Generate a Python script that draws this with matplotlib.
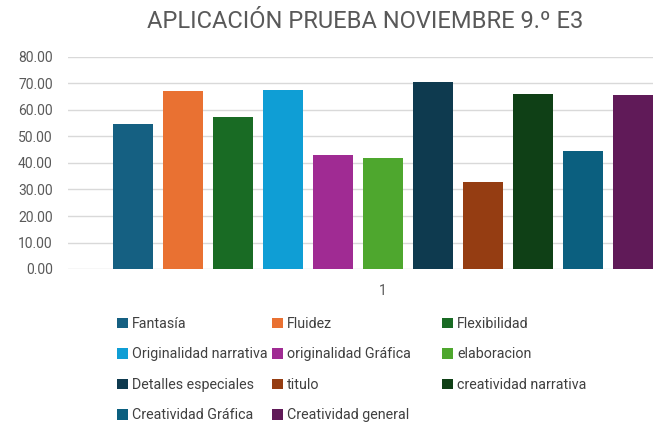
import numpy as np
import matplotlib.pyplot as plt

plt.rcParams['font.family'] = ['Roboto', 'DejaVu Sans']

series = ['Fantasía', 'Fluidez', 'Flexibilidad', 'Originalidad narrativa',
          'originalidad Gráfica', 'elaboracion', 'Detalles especiales', 'titulo',
          'creatividad narrativa', 'Creatividad Gráfica', 'Creatividad general']
values = [54.9, 67.2, 57.5, 67.6, 42.9, 41.9, 70.6, 32.7, 66.2, 44.4, 65.7]
colors = ['#156082', '#E97132', '#196B24', '#0F9ED5', '#A02B93', '#4EA72E',
          '#0E3A4F', '#953D12', '#0F4016', '#0B5F7F', '#601A58']
category = ['1']
yticks = [0, 10, 20, 30, 40, 50, 60, 70, 80]

fig = plt.figure(figsize=(6.53, 4.25), dpi=100)
ax = fig.add_axes([68 / 653, 1 - 269 / 425, 630 / 653, 212 / 425])

n = len(series)
pitch = 50 / 630
bars = []
for i, (name, v, c) in enumerate(zip(series, values, colors)):
    x = 1 + (i - (n - 1) / 2) * pitch
    b = ax.bar(x, v, width=pitch * 0.8, color=c, label=name, zorder=3)
    bars.append(b)

ax.set_xlim(0.5, 1.5)
ax.set_ylim(0, 80)
ax.set_yticks(yticks)
ax.set_yticklabels([f'{t:.2f}' for t in yticks])
ax.set_xticks([1])
ax.set_xticklabels(category)
ax.grid(axis='y', color='#D9D9D9', linewidth=1, zorder=0)
ax.set_axisbelow(True)
for s in ax.spines.values():
    s.set_visible(False)
ax.tick_params(axis='both', length=0, labelsize=10, colors='#595959')
ax.tick_params(axis='y', pad=11)
ax.tick_params(axis='x', pad=11)

fig.text(365 / 653, 1 - 22 / 425, 'APLICACIÓN PRUEBA NOVIEMBRE 9.º E3',
         ha='center', va='center', fontsize=17, color='#595959')

# legend in three columns, row-major like Excel
col_x = [117, 272, 442]
for col in range(3):
    idx = list(range(col, n, 3))
    leg = fig.legend([bars[i] for i in idx], [series[i] for i in idx],
                     loc='upper left', bbox_to_anchor=(col_x[col] / 653, 1 - 317 / 425),
                     frameon=False, fontsize=10.3, handlelength=0.75, handleheight=0.75,
                     handletextpad=0.3, labelspacing=1.15, borderaxespad=0, borderpad=0)
    for t in leg.get_texts():
        t.set_color('#404040')

fig.savefig('out.png', dpi=100)
